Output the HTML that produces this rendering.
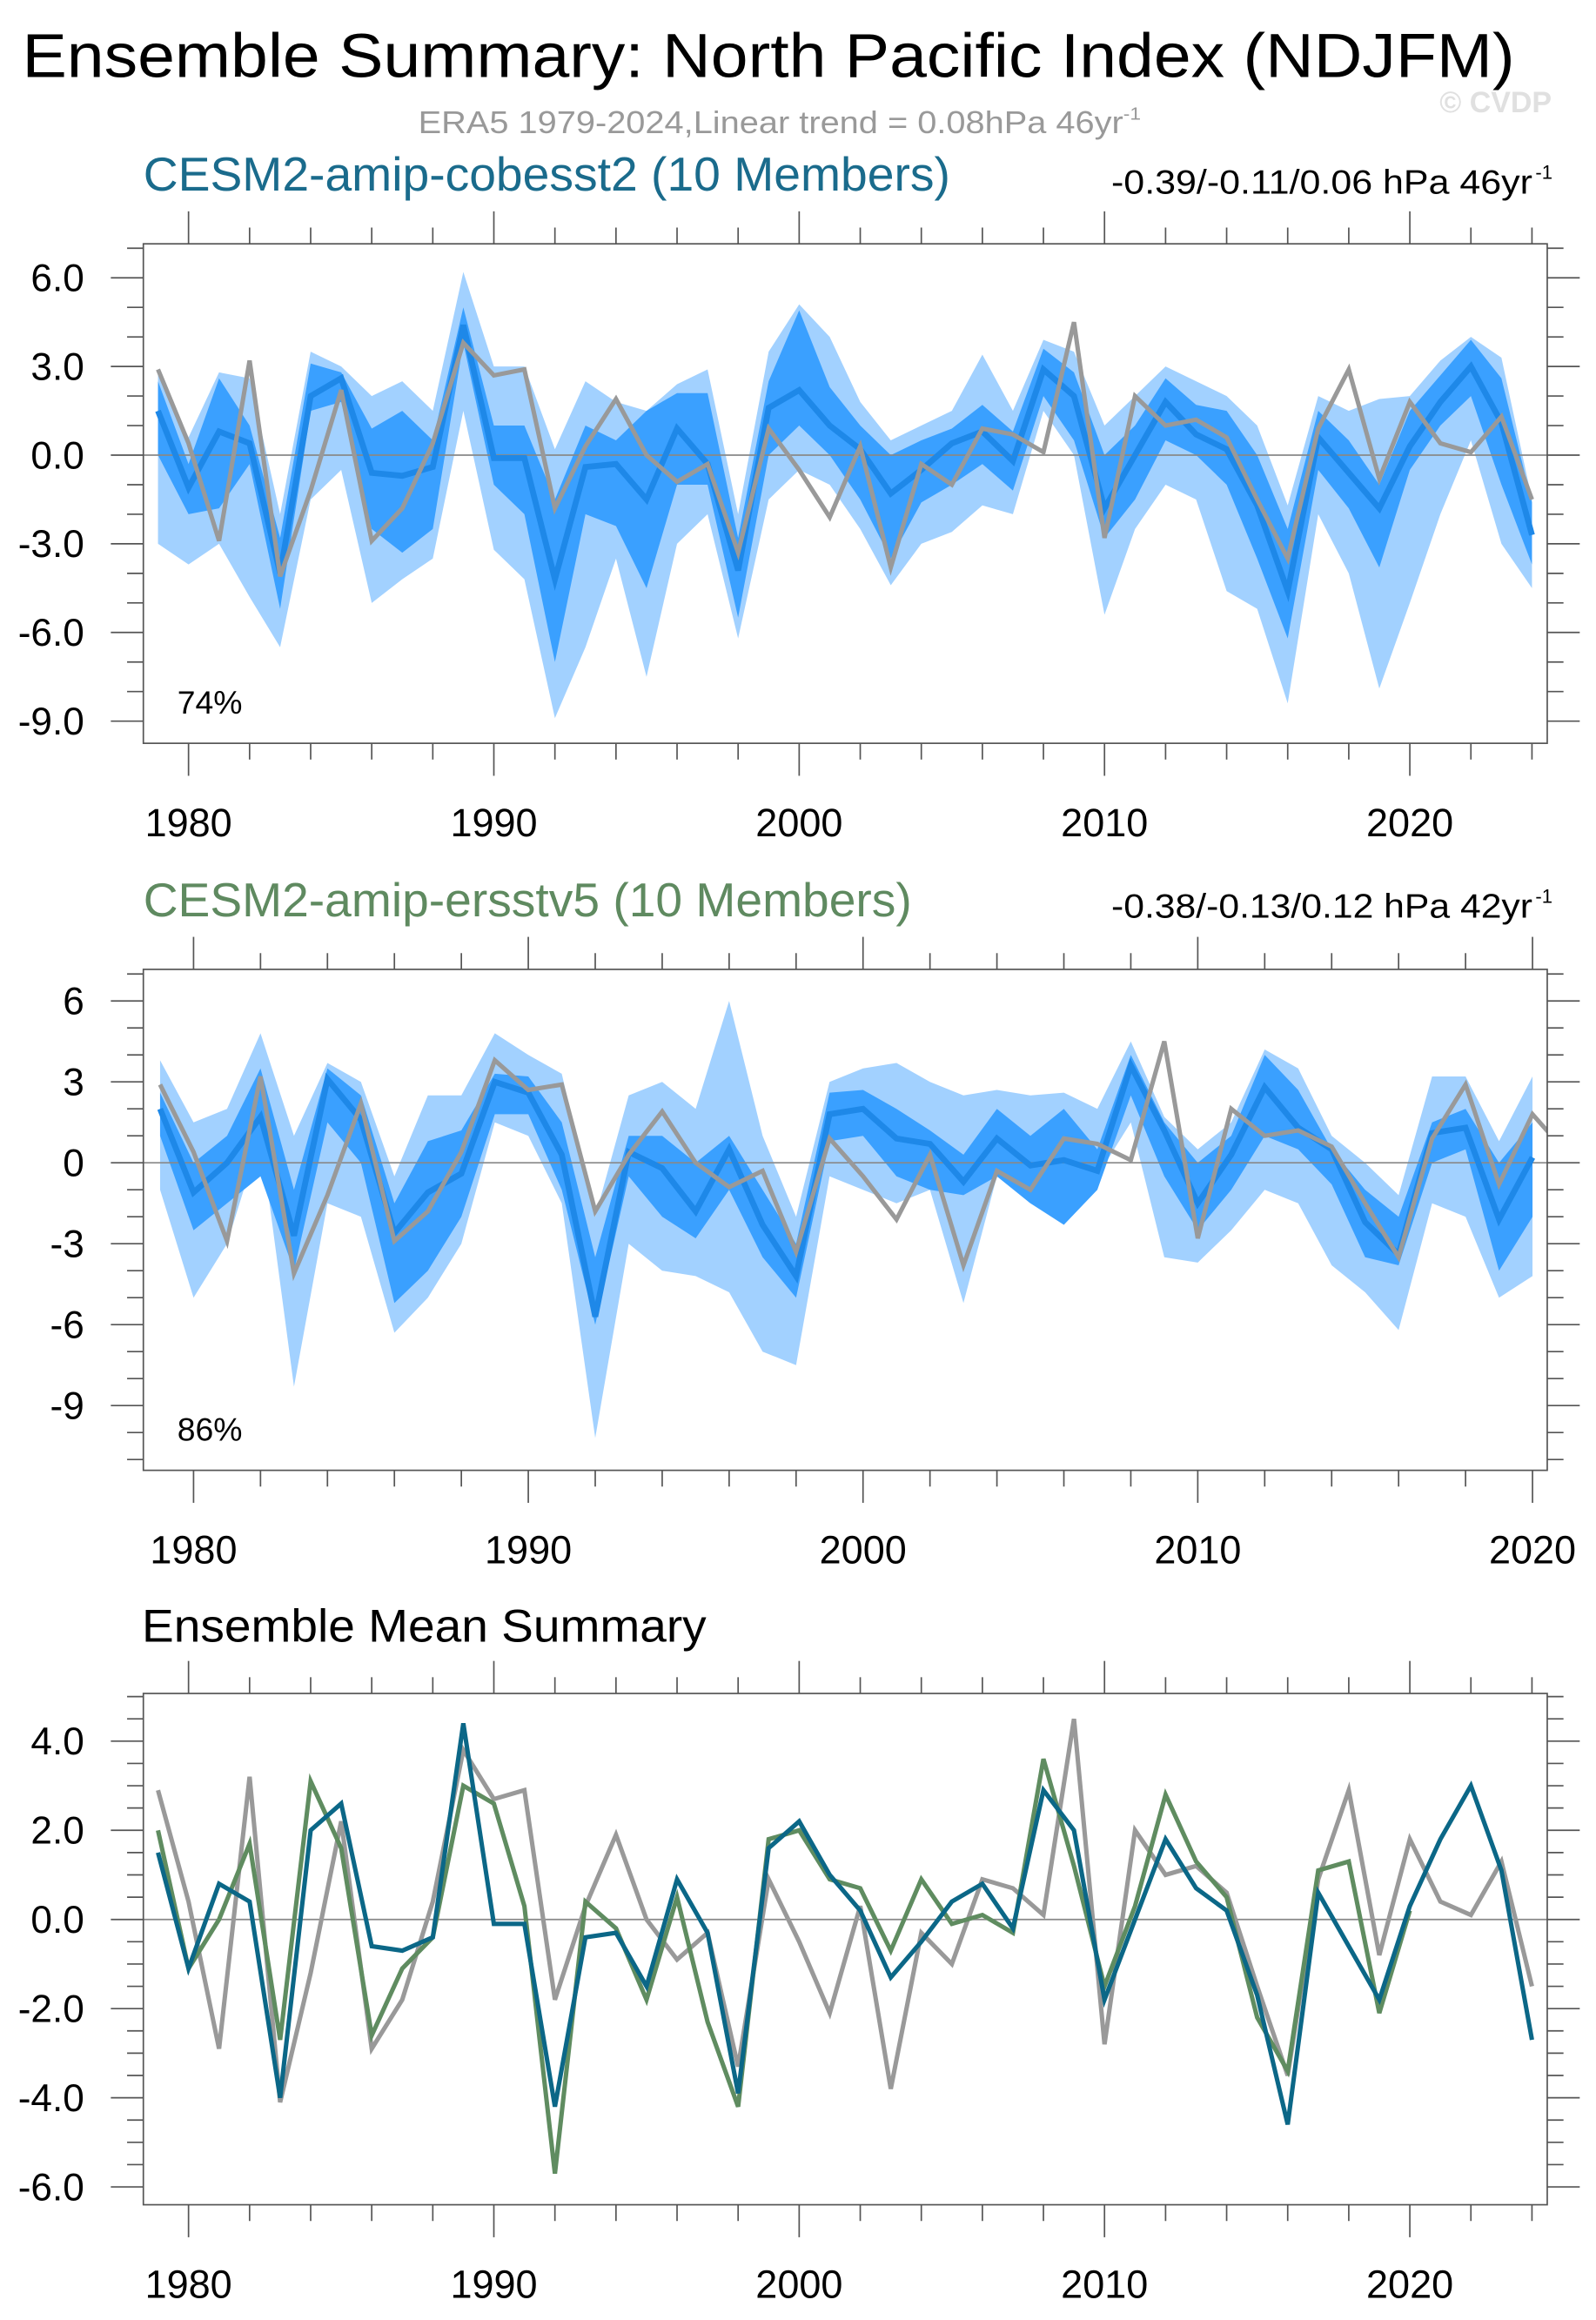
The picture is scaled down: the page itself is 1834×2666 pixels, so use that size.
<!DOCTYPE html>
<html><head><meta charset="utf-8"><style>html,body{margin:0;padding:0;background:#fff}svg{display:block}</style></head>
<body>
<svg id="chart" xmlns="http://www.w3.org/2000/svg" width="1834" height="2666" viewBox="0 0 1080 1570" preserveAspectRatio="none" font-family="Liberation Sans, sans-serif">
<rect width="1080" height="1570" fill="#fff"/>
<text x="15" y="52" font-size="42" textLength="1010" lengthAdjust="spacingAndGlyphs">Ensemble Summary: North Pacific Index (NDJFM)</text>
<text x="283" y="90" font-size="21" fill="#999" textLength="489" lengthAdjust="spacingAndGlyphs">ERA5 1979-2024,Linear trend = 0.08hPa 46yr<tspan font-size="12" dy="-9">-1</tspan></text>
<text x="1050" y="76" font-size="20" font-weight="bold" fill="#e0e0e0" text-anchor="end">© CVDP</text>
<text x="97" y="129" font-size="32" fill="#1a6b8c" textLength="546" lengthAdjust="spacingAndGlyphs">CESM2-amip-cobesst2 (10 Members)</text>
<text x="752" y="131" font-size="23" textLength="285" lengthAdjust="spacingAndGlyphs">-0.39/-0.11/0.06 hPa 46yr</text>
<text x="1039" y="121" font-size="13">-1</text>
<text x="97" y="620" font-size="32" fill="#5f8a60" textLength="520" lengthAdjust="spacingAndGlyphs">CESM2-amip-ersstv5 (10 Members)</text>
<text x="752" y="621" font-size="23" textLength="285" lengthAdjust="spacingAndGlyphs">-0.38/-0.13/0.12 hPa 42yr</text>
<text x="1039" y="611" font-size="13">-1</text>
<text x="96" y="1111" font-size="31" textLength="382" lengthAdjust="spacingAndGlyphs">Ensemble Mean Summary</text>
<g id="plots"></g>
</svg>
<script>
const obs = [2.9,0.4,-2.9,3.2,-4.1,-1.2,2.2,-2.9,-1.8,0.4,3.8,2.7,2.9,-1.8,0.3,1.9,0.0,-0.9,-0.3,-3.3,0.9,-0.5,-2.1,0.3,-3.8,-0.3,-1.0,0.9,0.7,0.1,4.5,-2.8,2.0,1.0,1.2,0.6,-1.5,-3.5,0.9,2.9,-0.8,1.8,0.4,0.1,1.3,-1.5];
const cobMean = [1.5,-1.1,0.8,0.4,-4.0,2.0,2.6,-0.6,-0.7,-0.4,4.4,-0.1,-0.1,-4.2,-0.4,-0.3,-1.5,0.9,-0.3,-3.9,1.6,2.2,1.0,0.2,-1.3,-0.5,0.4,0.8,-0.2,2.9,2.0,-1.8,0.0,1.8,0.7,0.2,-1.7,-4.6,0.6,-0.6,-1.8,0.3,1.8,3.0,1.1,-2.7];
const ersMean = [2.0,-1.1,0.0,1.7,-2.7,3.1,1.6,-2.6,-1.1,-0.4,3.0,2.6,0.3,-5.7,0.4,-0.2,-1.8,0.5,-2.3,-4.2,1.8,2.0,0.9,0.7,-0.7,0.9,-0.1,0.1,-0.3,3.6,1.2,-1.5,0.3,2.8,1.3,0.5,-2.2,-3.4,1.1,1.3,-2.1,0.2];
const cobMax = [2.9,0.6,2.8,2.6,-2.0,3.5,3.0,2.0,2.5,1.5,6.2,3.0,3.0,0.2,2.5,1.8,1.5,2.4,2.9,-2.0,3.5,5.1,4.0,1.8,0.5,1.0,1.5,3.4,1.5,3.9,3.5,1.0,2.0,3.0,2.5,2.0,1.0,-1.7,2.0,1.5,1.9,2.0,3.2,4.0,3.3,-1.5];
const cobMin = [-3.0,-3.7,-3.0,-4.8,-6.5,-1.5,-0.5,-5.0,-4.2,-3.5,1.5,-3.2,-4.2,-8.9,-6.5,-3.5,-7.5,-3.0,-2.0,-6.2,-1.5,-0.5,-1.0,-2.5,-4.4,-3.0,-2.6,-1.7,-2.0,1.5,0.0,-5.4,-2.5,-1.0,-1.5,-4.6,-5.2,-8.4,-2.0,-4.0,-7.9,-5.0,-2.0,0.5,-3.0,-4.5];
const cobQ75 = [2.5,-0.3,2.6,1.0,-2.8,3.1,2.8,0.9,1.5,0.5,5.0,1.0,1.0,-1.5,1.0,0.5,1.5,2.1,2.1,-2.8,2.5,4.9,2.3,1.0,0.0,0.5,0.9,1.7,0.8,3.6,2.8,0.0,1.0,2.6,1.7,1.5,0.0,-2.5,1.5,0.5,-1.0,1.5,2.7,3.9,2.6,-1.6];
const cobQ25 = [0.0,-2.0,-1.8,-0.3,-5.2,1.5,1.8,-2.5,-3.3,-2.5,3.8,-1.0,-2.0,-7.0,-2.0,-2.4,-4.5,-1.0,-1.0,-5.5,0.0,1.0,0.0,-1.5,-3.5,-1.6,-1.0,-0.3,-1.2,2.0,0.5,-2.8,-1.5,0.5,0.0,-1.0,-3.5,-6.2,-0.5,-1.8,-3.8,-0.5,1.0,2.0,-1.0,-3.7];
const ersMax = [3.8,1.5,2.0,4.8,1.0,3.7,3.0,-0.5,2.5,2.5,4.8,4.0,3.3,-2.0,2.5,3.0,2.0,6.0,1.0,-2.0,3.0,3.5,3.7,3.0,2.5,2.7,2.5,2.6,2.0,4.5,1.7,0.5,1.5,4.2,3.5,1.0,0.0,-1.2,3.2,3.2,0.8,3.2];
const ersMin = [-1.0,-5.0,-3.0,1.0,-8.3,-1.5,-2.0,-6.3,-5.0,-3.0,1.5,1.0,-1.5,-10.2,-3.0,-4.0,-4.2,-4.8,-7.0,-7.5,-0.5,-1.0,-1.5,-1.0,-5.2,-0.5,-1.5,-2.0,-0.5,1.5,-3.5,-3.7,-2.5,-1.0,-1.5,-3.8,-4.8,-6.2,-1.5,-2.0,-5.0,-4.2];
const ersQ75 = [2.6,0.0,1.0,3.5,-1.0,3.5,2.5,-1.5,0.8,1.2,3.3,3.2,1.5,-3.5,1.0,1.0,0.0,1.0,-1.0,-3.0,2.6,2.7,2.0,1.2,0.3,2.0,1.0,2.0,0.5,4.0,1.5,0.0,1.0,4.0,2.7,0.5,-1.0,-2.0,1.5,2.0,0.0,1.5];
const ersQ25 = [1.0,-2.5,-1.5,-0.5,-4.0,1.5,0.0,-5.2,-4.0,-2.0,1.8,1.8,-1.0,-6.0,-0.5,-2.0,-2.8,-1.0,-3.5,-5.0,0.8,1.0,-0.5,-1.0,-1.2,-0.5,-1.5,-2.3,-1.0,2.5,-0.5,-2.5,-1.0,1.0,0.5,-0.8,-3.5,-3.8,0.0,0.5,-4.0,-2.0];
const startYear = 1979;
const yTicks1 = [6,3,0,-3,-6,-9];
const yTicks2 = [6,3,0,-3,-6,-9];
const yTicks3 = [4,2,0,-2,-4,-6];
const xTicks1 = [1980,1990,2000,2010,2020];

const NS='http://www.w3.org/2000/svg';
const root=document.getElementById('plots');
function mk(tag,attrs,parent){const e=document.createElementNS(NS,tag);for(const k in attrs)e.setAttribute(k,attrs[k]);(parent||root).appendChild(e);return e;}

function panel(cfg){
  const g=mk('g',{});
  
  
  const L=97,R=1047,T=cfg.top,B=cfg.bottom;
  const xs=yr=>L+(yr-cfg.x0)/(cfg.x1-cfg.x0)*(R-L);
  const ys=v=>T+(cfg.y1-v)/(cfg.y1-cfg.y0)*(B-T);
  const cid='clip'+cfg.name;
  const cp=mk('clipPath',{id:cid},g);mk('rect',{x:L,y:T,width:R-L,height:B-T},cp);
  const pg=mk('g',{'clip-path':'url(#'+cid+')'},g);
  function band(hi,lo,fill,nm){
    let pts=[];hi.forEach((v,i)=>pts.push(xs(startYear+i)+','+ys(v)));
    for(let i=lo.length-1;i>=0;i--)pts.push(xs(startYear+i)+','+ys(lo[i]));
    const p=mk('polygon',{points:pts.join(' '),fill:fill},pg);
    
    
  }
  function line(arr,col,w,nm){
    const p=mk('polyline',{points:arr.map((v,i)=>xs(startYear+i)+','+ys(v)).join(' '),fill:'none',stroke:col,'stroke-width':w,'stroke-linejoin':'miter'},pg);
    
    
  }
  if(cfg.bands){band(cfg.bands[0],cfg.bands[1],'#a2d1ff',cfg.name+'-range-band');band(cfg.bands[2],cfg.bands[3],'#3aa0ff',cfg.name+'-iqr-band');}
  mk('line',{x1:L,x2:R,y1:ys(0),y2:ys(0),stroke:'#888','stroke-width':1},pg);
  cfg.lines.forEach(l=>line(l[0],l[1],l[2],l[3]));
  const fr=mk('rect',{x:L,y:T,width:R-L,height:B-T,fill:'none',stroke:'#555','stroke-width':1},g);
  
  
  for(let v=Math.ceil(cfg.y0/cfg.minY)*cfg.minY;v<=cfg.y1;v+=cfg.minY){
    const major=cfg.yt.some(t=>Math.abs(t-v)<1e-6);const len=major?22:11;const y=ys(v);
    mk('line',{x1:L-len,x2:L,y1:y,y2:y,stroke:'#555','stroke-width':1},g);
    mk('line',{x1:R,x2:R+len,y1:y,y2:y,stroke:'#555','stroke-width':1},g);
  }
  cfg.yt.forEach(v=>{const t=mk('text',{x:57,y:ys(v)+9,'font-size':26,'text-anchor':'end'},g);t.textContent=cfg.fmt(v);
    
    });
  for(let yr=1978;yr<=cfg.x1;yr+=2){if(yr<cfg.x0)continue;
    const major=(yr%10===0);const len=major?22:11;const x=xs(yr);
    mk('line',{x1:x,x2:x,y1:T-len,y2:T,stroke:'#555','stroke-width':1},g);
    mk('line',{x1:x,x2:x,y1:B,y2:B+len,stroke:'#555','stroke-width':1},g);
  }
  xTicks1.forEach(yr=>{if(yr>cfg.x1+0.1)return;const t=mk('text',{x:xs(yr),y:B+63,'font-size':26.5,'text-anchor':'middle'},g);t.textContent=yr;
    
    });
  if(cfg.pct){const t=mk('text',{x:120,y:B-20,'font-size':22},g);t.textContent=cfg.pct;
    
    }
}
panel({name:'panel1-cobesst2',top:165,bottom:503,x0:1978.52,x1:2024.5,y0:-9.75,y1:7.15,minY:1,yt:yTicks1,fmt:v=>v.toFixed(1),
  bands:[cobMax,cobMin,cobQ75,cobQ25],lines:[[cobMean,'#1e88e8',4,'cobesst2-ensemble-mean'],[obs,'#999',3,'era5-observed']],pct:'74%'});
panel({name:'panel2-ersstv5',top:656,bottom:995,x0:1978.5,x1:2020.44,y0:-11.4,y1:7.17,minY:1,yt:yTicks2,fmt:v=>String(v),
  bands:[ersMax,ersMin,ersQ75,ersQ25],lines:[[ersMean,'#1e88e8',4,'ersstv5-ensemble-mean'],[obs,'#999',3,'era5-observed']],pct:'86%'});
panel({name:'panel3-mean-summary',top:1146,bottom:1492,x0:1978.52,x1:2024.5,y0:-6.4,y1:5.07,minY:0.5,yt:yTicks3,fmt:v=>v.toFixed(1),
  lines:[[obs,'#999',3,'era5-observed'],[ersMean,'#5f8c60',3,'ersstv5-mean-line'],[cobMean,'#0b6787',3,'cobesst2-mean-line']]});
</script>
</body></html>
